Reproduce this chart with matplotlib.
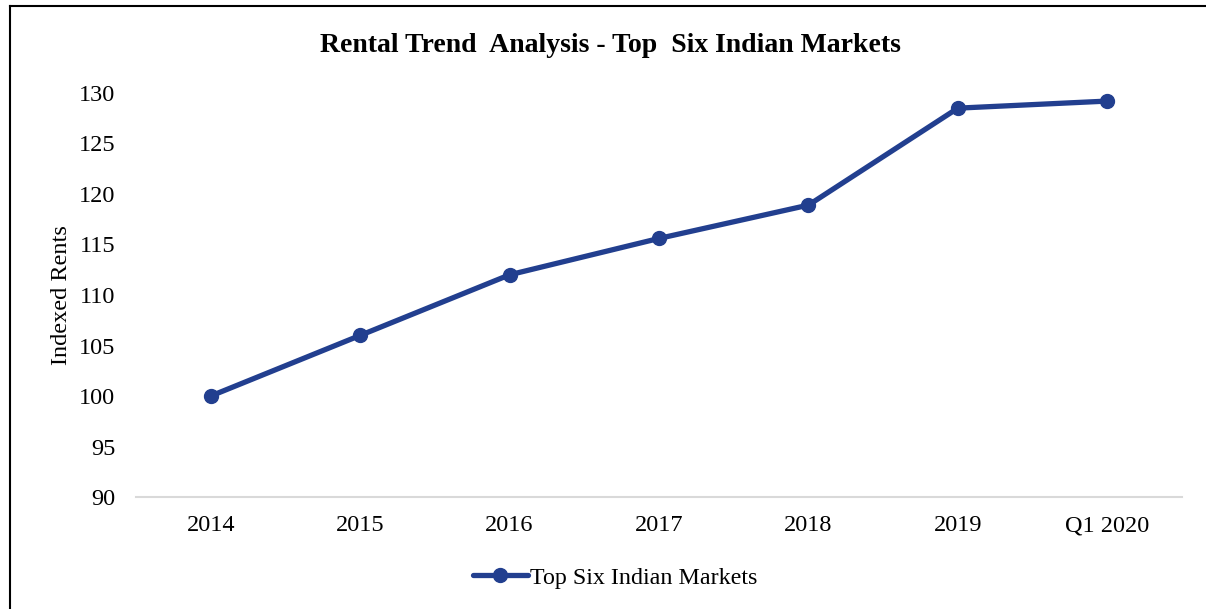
import matplotlib.pyplot as plt
from matplotlib.lines import Line2D

# donnees
periods = ["2014", "2015", "2016", "2017", "2018", "2019", "Q1 2020"]
rents = [100.0, 106.0, 112.0, 115.6, 118.9, 128.5, 129.2]
yticks = [90, 95, 100, 105, 110, 115, 120, 125, 130]

plt.rcParams['font.family'] = ['Liberation Serif', 'DejaVu Serif']
blue = '#223F8F'

fig = plt.figure(figsize=(12.06, 6.09), dpi=100)
ax = fig.add_axes([0.1128, 0.1839, 0.8673, 0.6634])

x = list(range(len(periods)))
ax.plot(x, rents, color=blue, linewidth=3.8, marker='o', markersize=10,
        label="Top Six Indian Markets", solid_capstyle='round')

ax.set_xlim(-0.5, len(periods) - 0.5)
ax.set_ylim(90, 130)
ax.set_yticks(yticks)
ax.set_xticks(x)
ax.set_xticklabels(periods)
ax.tick_params(axis='both', length=0, labelsize=17.5, colors='black')
ax.tick_params(axis='x', pad=13)
ax.tick_params(axis='y', pad=15)

for s in ['top', 'right', 'left']:
    ax.spines[s].set_visible(False)
ax.spines['bottom'].set_color('#D9D9D9')
ax.spines['bottom'].set_linewidth(1.5)

ax.set_ylabel("Indexed Rents", fontsize=17.5, labelpad=5)
fig.text(0.506, 0.926, "Rental Trend  Analysis - Top  Six Indian Markets",
         ha='center', va='center', fontsize=20, fontweight='bold')

leg = fig.legend(loc='center', bbox_to_anchor=(0.51, 0.051), frameon=False,
                 fontsize=17.3, handlelength=2.3, handletextpad=0.1)

# bordure (gauche et haut)
fig.add_artist(Line2D([0.0085, 0.0085], [0, 0.99], transform=fig.transFigure, color='black', lw=1.5))
fig.add_artist(Line2D([0.0085, 1], [0.99, 0.99], transform=fig.transFigure, color='black', lw=1.5))

fig.savefig("out.png", dpi=100, facecolor='white')
